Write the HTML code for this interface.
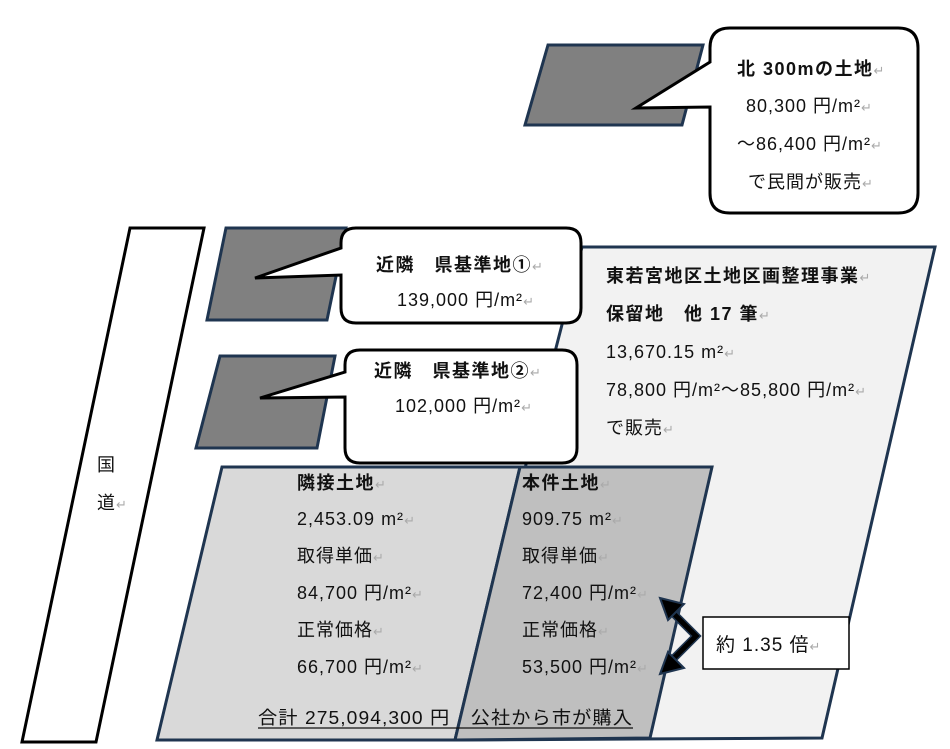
<!DOCTYPE html>
<html><head><meta charset="utf-8"><style>
body{margin:0;background:#fff;width:950px;height:749px;overflow:hidden}
svg{display:block}
text{font-family:"Liberation Sans","Noto Sans CJK JP",sans-serif;font-size:18px;fill:#111;letter-spacing:1px}
.b{font-weight:bold;letter-spacing:1.5px}
.r{fill:#aaa;font-size:13px;font-weight:normal}
</style></head><body>
<svg width="950" height="749" viewBox="0 0 950 749">
<polygon points="582,247 935,247 822,738 455,740" fill="#f2f2f2" stroke="#1f3550" stroke-width="3"/>
<polygon points="222,467 520,467 455,740 157,740" fill="#d9d9d9" stroke="#1f3550" stroke-width="3"/>
<polygon points="520,467 712,467 650,738 455,740" fill="#bfbfbf" stroke="#1f3550" stroke-width="3"/>
<polygon points="130,228 204,228 96,742 22,742" fill="#fff" stroke="#000" stroke-width="3"/>
<text x="97" y="471">国</text><text x="97" y="509">道<tspan class="r">↵</tspan></text>
<polygon points="226,228 346,228 327,320 207,320" fill="#808080" stroke="#1f3550" stroke-width="3"/>
<polygon points="220,356 335,356 317,448 196,448" fill="#808080" stroke="#1f3550" stroke-width="3"/>
<polygon points="548,45 703,45 682,125 525,125" fill="#808080" stroke="#1f3550" stroke-width="3"/>
<path d="M356,228 H566 Q581,228 581,243 V308 Q581,323 566,323 H356 Q341,323 341,308 V275 L255,278 L341,248 V243 Q341,228 356,228 Z" fill="#fff" stroke="#000" stroke-width="3"/>
<path d="M360,350 H562 Q577,350 577,365 V448 Q577,463 562,463 H360 Q345,463 345,448 V397 L260,398 L345,372 V365 Q345,350 360,350 Z" fill="#fff" stroke="#000" stroke-width="3"/>
<path d="M730,28 H898 Q918,28 918,48 V193 Q918,213 898,213 H730 Q710,213 710,193 V107 L636,108 L710,62 V48 Q710,28 730,28 Z" fill="#fff" stroke="#000" stroke-width="3"/>
<text x="737" y="75" class="b">北 300mの土地<tspan class="r">↵</tspan></text>
<text x="746" y="112">80,300 円/m²<tspan class="r">↵</tspan></text>
<text x="737" y="150">～86,400 円/m²<tspan class="r">↵</tspan></text>
<text x="748" y="188">で民間が販売<tspan class="r">↵</tspan></text>
<text x="376" y="271" class="b">近隣　県基準地①<tspan class="r">↵</tspan></text>
<text x="397" y="306">139,000 円/m²<tspan class="r">↵</tspan></text>
<text x="374" y="377" class="b">近隣　県基準地②<tspan class="r">↵</tspan></text>
<text x="395" y="412">102,000 円/m²<tspan class="r">↵</tspan></text>
<text x="606" y="282" class="b">東若宮地区土地区画整理事業<tspan class="r">↵</tspan></text>
<text x="606" y="320" class="b">保留地　他 17 筆<tspan class="r">↵</tspan></text>
<text x="606" y="358">13,670.15 m²<tspan class="r">↵</tspan></text>
<text x="606" y="396">78,800 円/m²～85,800 円/m²<tspan class="r">↵</tspan></text>
<text x="606" y="434">で販売<tspan class="r">↵</tspan></text>
<text x="297" y="489" class="b">隣接土地<tspan class="r">↵</tspan></text>
<text x="297" y="525">2,453.09 m²<tspan class="r">↵</tspan></text>
<text x="297" y="562">取得単価<tspan class="r">↵</tspan></text>
<text x="297" y="599">84,700 円/m²<tspan class="r">↵</tspan></text>
<text x="297" y="636">正常価格<tspan class="r">↵</tspan></text>
<text x="297" y="673">66,700 円/m²<tspan class="r">↵</tspan></text>
<text x="522" y="489" class="b">本件土地<tspan class="r">↵</tspan></text>
<text x="522" y="525">909.75 m²<tspan class="r">↵</tspan></text>
<text x="522" y="562">取得単価<tspan class="r">↵</tspan></text>
<text x="522" y="599">72,400 円/m²<tspan class="r">↵</tspan></text>
<text x="522" y="636">正常価格<tspan class="r">↵</tspan></text>
<text x="522" y="673">53,500 円/m²<tspan class="r">↵</tspan></text>
<text x="258" y="724" textLength="375" lengthAdjust="spacingAndGlyphs">合計 275,094,300 円　公社から市が購入</text>
<line x1="258" y1="728" x2="633" y2="728" stroke="#111" stroke-width="1.2"/>
<polyline points="666,606 696,636 666,666" fill="none" stroke="#1f3550" stroke-width="8"/>
<polyline points="666,606 696,636 666,666" fill="none" stroke="#000" stroke-width="5"/>
<polygon points="660,598 684,604 668,620" fill="#000" stroke="#1f3550" stroke-width="2"/>
<polygon points="660,674 684,668 668,652" fill="#000" stroke="#1f3550" stroke-width="2"/>
<rect x="703" y="617" width="146" height="52" fill="#fff" stroke="#000" stroke-width="1.5"/>
<text x="716" y="651" style="font-size:19px">約 1.35 倍<tspan class="r">↵</tspan></text>
</svg>
</body></html>
